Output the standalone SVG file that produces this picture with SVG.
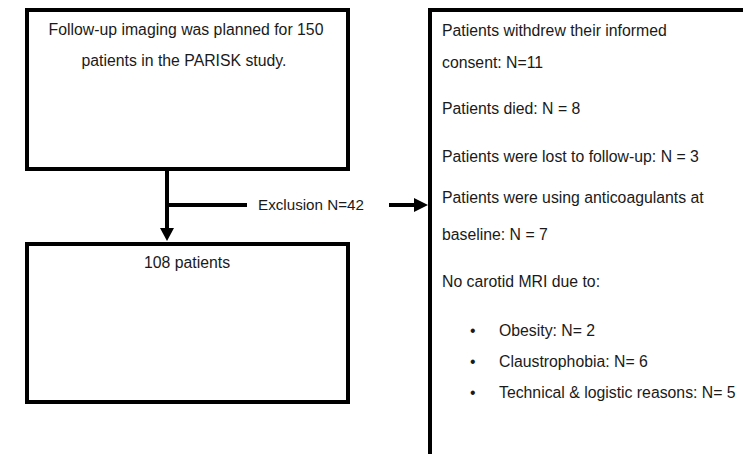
<svg xmlns="http://www.w3.org/2000/svg" width="743" height="454" viewBox="0 0 743 454">
<style>
.box{fill:#fff;stroke:#000;stroke-width:4}
.ln{fill:none;stroke:#000;stroke-width:4}
text{font-family:"Liberation Sans",Arial,sans-serif;font-size:15.8px;fill:#1a1a1a}
.c{text-anchor:middle}
.lbl{font-size:15.2px}
</style>
<g id="node-start">
<rect class="box" x="27" y="10" width="321" height="159"/>
<text class="c" x="186" y="35">Follow-up imaging was planned for 150</text>
<text class="c" x="184" y="66">patients in the PARISK study.</text>
</g>
<g id="node-result">
<rect class="box" x="27" y="244" width="321" height="158"/>
<text class="c" x="187" y="268">108 patients</text>
</g>
<g id="node-exclusion">
<path class="ln" d="M430,470 V10 H750"/>
<text x="442" y="36">Patients withdrew their informed</text>
<text x="442" y="68">consent: N=11</text>
<text x="442" y="114">Patients died: N = 8</text>
<text x="442" y="162">Patients were lost to follow-up: N = 3</text>
<text x="442" y="203">Patients were using anticoagulants at</text>
<text x="442" y="240">baseline: N = 7</text>
<text x="442" y="287">No carotid MRI due to:</text>
<text x="470" y="336">•</text>
<text x="499" y="336">Obesity: N= 2</text>
<text x="470" y="367">•</text>
<text x="499" y="367">Claustrophobia: N= 6</text>
<text x="470" y="398">•</text>
<text x="499" y="398">Technical &amp; logistic reasons: N= 5</text>
</g>
<g id="connectors">
<path class="ln" d="M167,169 V229"/>
<path d="M160,228 L174,228 L167,241 Z" fill="#000"/>
<path class="ln" d="M167,205 H247"/>
<text class="lbl" x="258" y="210">Exclusion N=42</text>
<path class="ln" d="M389,205 H416"/>
<path d="M414,198 L428,205 L414,212 Z" fill="#000"/>
</g>
</svg>
